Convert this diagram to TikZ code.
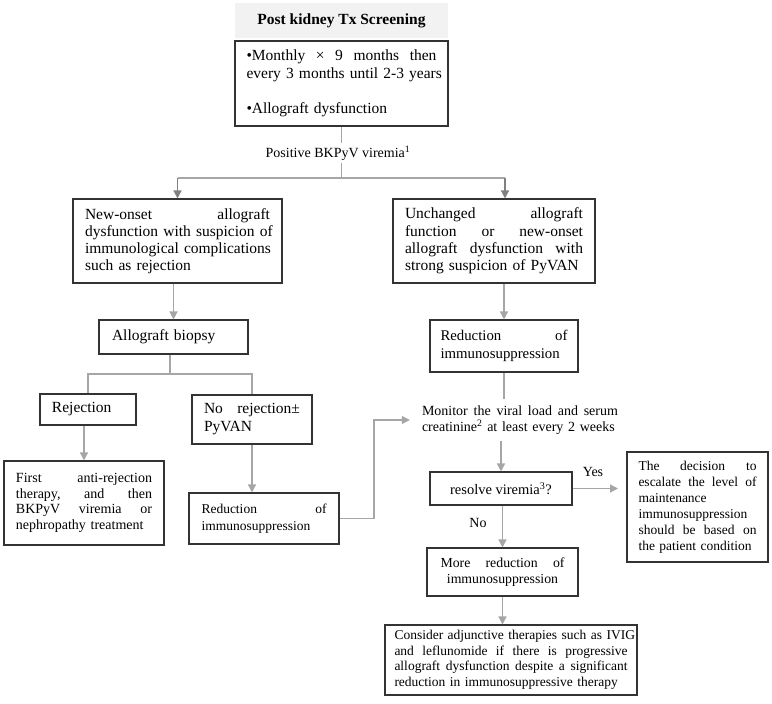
\documentclass[tikz,border=0pt]{standalone}
\usepackage{fontspec}
\setmainfont{Liberation Serif}
\usetikzlibrary{arrows.meta,calc}
\newcommand\jl[2]{\leavevmode\hbox to #1pt{#2}\par}
\newcommand\fs[2]{\fontsize{#1}{#2}\selectfont}
\definecolor{cgray}{HTML}{A6A6A6}
\definecolor{cdark}{HTML}{808080}
\definecolor{boxline}{HTML}{333333}
\definecolor{titlefill}{HTML}{F2F2F2}
\begin{document}
\begin{tikzpicture}[x=1pt,y=-1pt,
 box/.style={draw=boxline, line width=1.1pt, inner ysep=2pt, execute at begin node={\parindent=0pt\parskip=0pt}},
 plain/.style={inner sep=0pt, execute at begin node={\parindent=0pt\parskip=0pt}},
 conn/.style={draw=cgray, line width=1.4pt},
 arr/.style={conn, -{Triangle[width=8pt,length=8pt]}},
 arrd/.style={draw=cdark, line width=1.4pt, -{Triangle[width=8pt,length=8pt]}},
 lbl/.style={inner sep=2pt, font=\fs{14}{16}},
]
\useasboundingbox (0,0) rectangle (772,704);

\node[fill=titlefill, minimum width=213, minimum height=35, inner sep=0, font=\bfseries\fs{15.5}{18}] (title) at (341.5,20.5) {Post kidney Tx Screening};

\node[box, text width=190, inner xsep=11.5, minimum height=85, font=\fs{15.5}{17.7}] (top) at (341.5,83.5)
 {\jl{190}{•Monthly \hfill × \hfill 9 \hfill months \hfill then}\jl{190}{every \hfill 3 \hfill months \hfill until \hfill 2-3 \hfill years}\mbox{}\par •Allograft dysfunction};

\node[lbl] (lab) at (338,153) {Positive BKPyV viremia\textsuperscript{1}};

\node[box, text width=185, inner xsep=12, minimum height=84, font=\fs{15.5}{17.2}] (L1) at (177.5,241)
 {\jl{185}{New-onset \hfill allograft}\jl{185}{dysfunction \hfill with \hfill suspicion \hfill of}\jl{185}{immunological \hfill complications}such as rejection};

\node[box, text width=178, inner xsep=12, minimum height=84, font=\fs{15.5}{17.2}] (R1) at (494,241)
 {\jl{178}{Unchanged \hfill allograft}\jl{178}{function \hfill or \hfill new-onset}\jl{178}{allograft \hfill dysfunction \hfill with}strong suspicion of PyVAN};

\node[box, text width=123, inner xsep=13, minimum height=34, font=\fs{15.5}{18}] (biopsy) at (173.5,337) {Allograft biopsy};

\node[box, text width=127, inner xsep=10.5, minimum height=52, font=\fs{14.8}{18}] (R2) at (504,346)
 {\jl{127}{Reduction \hfill of}immunosuppression};

\node[box, text width=72, inner xsep=12, minimum height=31, font=\fs{15.5}{18}] (rej) at (88,409.5) {Rejection};

\node[box, text width=96, inner xsep=12, minimum height=49, font=\fs{15.5}{18}] (norej) at (252,419.5)
 {\jl{96}{No \hfill rejection±}PyVAN};

\node[box, text width=136, inner xsep=12, minimum height=84, font=\fs{14}{15.7}] (first) at (84,503)
 {\jl{136}{First \hfill anti-rejection}\jl{136}{therapy, \hfill and \hfill then}\jl{136}{BKPyV \hfill viremia \hfill or}nephropathy treatment};

\node[box, text width=125, inner xsep=12.5, minimum height=51, font=\fs{13.5}{16.7}] (redL) at (264,518.5)
 {\jl{125}{Reduction \hfill of}immunosuppression};

\node[plain, text width=196, inner xsep=12, inner ysep=6, font=\fs{14}{16.5}] (mon) at (520,420)
 {\jl{196}{Monitor \hfill the \hfill viral \hfill load \hfill and \hfill serum}creatinine\textsuperscript{2} at least every 2 weeks};

\node[box, minimum width=142, minimum height=33, font=\fs{14.5}{17}] (resolve) at (501,488.5) {resolve viremia\textsuperscript{3}?};

\node[box, text width=118, inner xsep=11.5, minimum height=110, font=\fs{13.5}{16}] (dec) at (697.5,507)
 {\jl{118}{The \hfill decision \hfill to}\jl{118}{escalate \hfill the \hfill level \hfill of}maintenance\par immunosuppression\par\jl{118}{should \hfill be \hfill based \hfill on}the patient condition};

\node[box, text width=124, inner xsep=13.5, minimum height=48, align=center, font=\fs{13.8}{16.5}] (more) at (502.5,572)
 {\jl{124}{More \hfill reduction \hfill of}immunosuppression};

\node[box, text width=233, inner xsep=9.5, minimum height=70, font=\fs{13.5}{15.5}] (cons) at (511,660)
 {\jl{233}{Consider \hfill adjunctive \hfill therapies \hfill such \hfill as \hfill IVIG}\jl{233}{and \hfill leflunomide \hfill if \hfill there \hfill is \hfill progressive}\jl{233}{allograft \hfill dysfunction \hfill despite \hfill a \hfill significant}reduction in immunosuppressive therapy};

\node[lbl] (yes) at (593,472) {Yes};
\node[lbl] (no) at (478,523) {No};

% connectors
\coordinate (sp) at (341.5,178);
\coordinate (sp2) at (170,374);
\coordinate (bend) at (374,470);
\coordinate (yend) at (618,490);

\draw[conn] (top.south) -- (top.south |- lab.north);
\draw[conn] (lab.south -| sp) -- (sp);
\draw[conn] (L1.north |- sp) -- ([xshift=11pt]R1.north |- sp);
\draw[arrd] (sp -| L1.north) -- (L1.north);
\draw[arrd] ([xshift=11pt]R1.north |- sp) -- ([xshift=11pt]R1.north);

\draw[arr] (biopsy.north |- L1.south) -- (biopsy.north);
\draw[arr] (R2.north |- R1.south) -- (R2.north);

\draw[conn] (biopsy.south -| sp2) -- (sp2);
\draw[conn] (sp2) -| (rej.north);
\draw[conn] (sp2) -| (norej.north);

\draw[arr] (first.north |- rej.south) -- (first.north);
\draw[arr] (norej.south) -- (norej.south |- redL.north);

\draw[arr] (redL.east) -- (redL.east -| bend) -- (bend |- mon.west) -- (mon.west);

\draw[conn] (R2.south) -- (R2.south |- mon.north);
\draw[arr] (resolve.north |- mon.south) -- (resolve.north);
\draw[arr] (resolve.east) -- (resolve.east -| yend);
\draw[arr] (more.north |- resolve.south) -- (more.north);
\draw[arr] (more.south) -- (more.south |- cons.north);
\end{tikzpicture}
\end{document}
